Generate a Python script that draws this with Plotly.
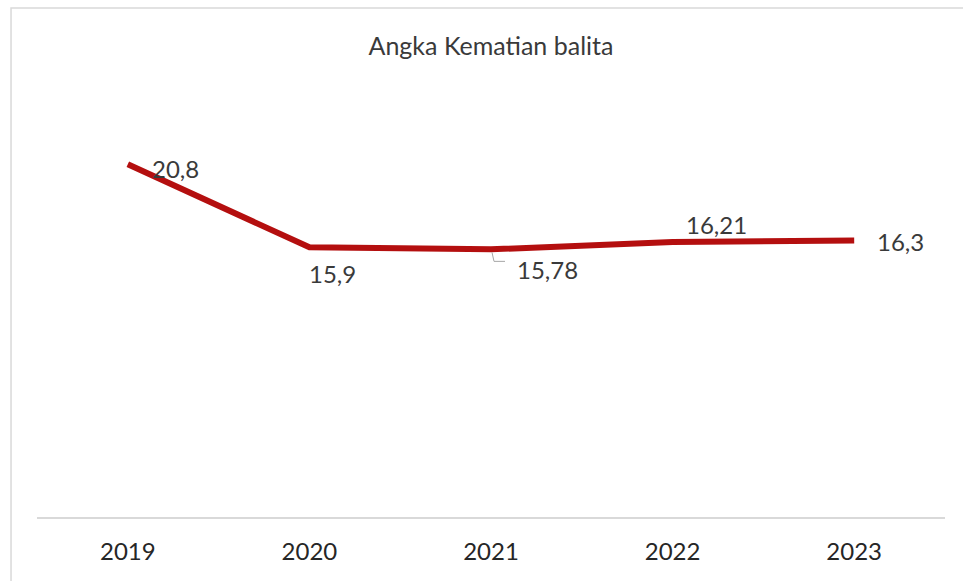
import plotly.graph_objects as go

# Angka kematian balita per tahun
years = ["2019", "2020", "2021", "2022", "2023"]
values = [20.8, 15.9, 15.78, 16.21, 16.3]
value_labels = ["20,8", "15,9", "15,78", "16,21", "16,3"]

# label placement around each point (pixel offsets)
label_xanchor = ["left", "center", "left", "center", "left"]
label_xshift = [22, 23, 24, 44, 21]
label_yshift = [-4, -26, -20, 18, -1]

FONT = "Lato"
TEXT = "#3A3A3A"

xpos = list(range(len(years)))

fig = go.Figure()
fig.add_trace(go.Scatter(
    x=xpos, y=values, mode="lines",
    line=dict(color="#B40F0F", width=6),
    hoverinfo="skip", showlegend=False,
))

for xp, v, lab, xa, xs, ys in zip(xpos, values, value_labels,
                                  label_xanchor, label_xshift, label_yshift):
    fig.add_annotation(x=xp, y=v, text=lab, showarrow=False,
                       xanchor=xa, yanchor="middle", xshift=xs, yshift=ys,
                       font=dict(family=FONT, size=24, color=TEXT))

# leader line for the 2021 label
fig.add_shape(type="path", xref="x", yref="y",
              xsizemode="pixel", ysizemode="pixel",
              xanchor=xpos[2], yanchor=values[2],
              path="M 1 -3 L 3 -12 L 14 -12",
              line=dict(color="#A6A6A6", width=1))

# chart frame
fig.add_shape(type="rect", xref="paper", yref="paper",
              x0=-0.0286, x1=1.2, y0=-0.4, y1=1.2005,
              line=dict(color="#D9D9D9", width=1.5), layer="below")

fig.update_layout(
    width=963, height=581,
    margin=dict(l=37, r=18, t=93, b=64),
    paper_bgcolor="white", plot_bgcolor="white",
    title=dict(text="Angka Kematian balita", x=0.5, xref="paper",
               y=1 - 46 / 581, yref="container", xanchor="center", yanchor="middle",
               font=dict(family=FONT, size=25, color=TEXT)),
    xaxis=dict(range=[-0.5, len(years) - 0.5], tickmode="array",
               tickvals=xpos, ticktext=years,
               showgrid=False, zeroline=False,
               showline=True, linecolor="#D9D9D9", linewidth=1.5,
               ticks="", ticklabelstandoff=12,
               tickfont=dict(family=FONT, size=24, color="#262626")),
    yaxis=dict(range=[0, 25], visible=False, showgrid=False, zeroline=False),
)

fig.write_html("out.html")
